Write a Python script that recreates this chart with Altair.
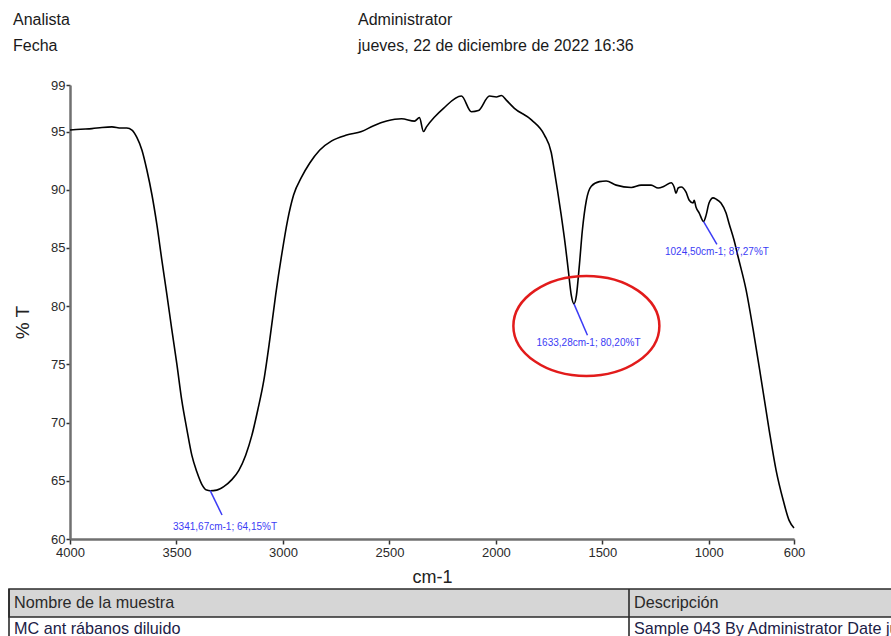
import altair as alt
import pandas as pd

# FTIR transmittance spectrum (wavenumber in cm-1, transmittance in %T)
wavenumber = [
    4000, 3950, 3897, 3850, 3803, 3760, 3733, 3709, 3686, 3662, 3639, 3615,
    3592, 3569, 3545, 3522, 3498, 3475, 3451, 3428, 3404, 3381, 3358, 3341.67,
    3311, 3278, 3240, 3207, 3175, 3146, 3118, 3090, 3062, 3034, 3006, 2978,
    2950, 2912, 2874, 2828, 2771, 2701, 2631, 2574, 2513, 2443, 2382, 2359,
    2340, 2326, 2288, 2246, 2162, 2115, 2082, 2030, 1998, 1974, 1951, 1913,
    1833, 1772, 1740, 1726, 1711, 1693, 1674, 1660, 1646, 1633.28, 1622, 1608,
    1594, 1575, 1552, 1514, 1482, 1435, 1364, 1318, 1271, 1238, 1210, 1177,
    1163, 1154, 1144, 1130, 1107, 1092, 1074, 1069, 1060, 1045, 1024.50, 1013,
    999, 980, 966, 943, 919, 905, 882, 862, 825, 792, 754, 717, 684, 651, 623,
    600,
]
transmittance = [
    95.13, 95.2, 95.25, 95.35, 95.4, 95.3, 95.3, 95.13, 94.5, 93.4, 91.7, 89.55,
    87.0, 84.0, 81.0, 78.0, 75.0, 71.9, 69.4, 67.2, 65.75, 64.7, 64.2, 64.15,
    64.2, 64.5, 65.1, 65.9, 67.2, 68.9, 71.1, 73.6, 77.1, 81.0, 84.4, 87.4,
    89.55, 91.1, 92.3, 93.4, 94.2, 94.7, 95.0, 95.5, 95.9, 96.1, 95.9, 96.2,
    95.0, 95.4, 96.25, 97.0, 98.05, 96.7, 96.8, 98.05, 97.97, 98.1, 97.7, 97.0,
    96.0, 94.7, 93.2, 91.7, 90.0, 87.8, 85.25, 83.1, 80.95, 80.20, 80.9, 83.5,
    86.5, 89.1, 90.3, 90.7, 90.75, 90.4, 90.2, 90.4, 90.4, 90.15, 90.3, 90.6,
    90.24, 89.7, 90.15, 90.24, 89.8, 89.1, 88.86, 89.1, 88.5, 88.0, 87.27, 87.8,
    88.86, 89.3, 89.2, 88.86, 88.0, 87.1, 85.7, 84.2, 81.4, 78.0, 73.7, 69.4,
    65.9, 63.35, 61.6, 60.95,
]

# Labelled absorption peaks and where their callout text sits
peak_wn = [3341.67, 1633.28, 1024.50]
peak_t = [64.15, 80.20, 87.27]
callout_wn = [3286, 1570, 962]
callout_t = [62.06, 77.5, 85.3]
label_wn = [3272, 1565, 962]
label_t = [61.03, 76.85, 84.65]

x_ticks = [4000, 3500, 3000, 2500, 2000, 1500, 1000, 600]
y_ticks = [60, 65, 70, 75, 80, 85, 90, 95, 99]

# Highlighted region (the 1633 cm-1 band)
focus_wn = [1575]
focus_t = [78.3]


def fmt(v):
    return f"{v:.2f}".replace(".", ",")


spectrum = pd.DataFrame({"wn": wavenumber, "t": transmittance})
peaks = pd.DataFrame({
    "wn": peak_wn, "t": peak_t,
    "wn2": callout_wn, "t2": callout_t,
    "lwn": label_wn, "lt": label_t,
    "label": [f"{fmt(w)}cm-1; {fmt(t)}%T" for w, t in zip(peak_wn, peak_t)],
})
focus = pd.DataFrame({"wn": focus_wn, "t": focus_t})

FONT = "Liberation Sans"
BLUE = "#3b3bf5"

x_enc = alt.X(
    "wn:Q",
    scale=alt.Scale(domain=[600, 4000], reverse=True, nice=False, zero=False),
    axis=alt.Axis(values=x_ticks, format="d", title="cm-1", titleFontSize=18,
                  titlePadding=9, labelPadding=2, tickSize=5),
)
y_enc = alt.Y(
    "t:Q",
    scale=alt.Scale(domain=[60, 99], nice=False, zero=False),
    axis=alt.Axis(values=y_ticks, format="d", title="% T", titleFontSize=19,
                  titleX=-48, titleY=237, titleAlign="center",
                  titleBaseline="middle", labelPadding=1, tickSize=4),
)

line = alt.Chart(spectrum).mark_line(
    color="black", strokeWidth=1.6, interpolate="monotone"
).encode(x=x_enc, y=y_enc)

callouts = alt.Chart(peaks).mark_rule(color=BLUE, strokeWidth=1.5).encode(
    x="wn:Q", y="t:Q", x2="wn2:Q", y2="t2:Q"
)
callout_text = alt.Chart(peaks).mark_text(
    color=BLUE, font=FONT, fontSize=10, align="center", baseline="middle"
).encode(x="lwn:Q", y="lt:Q", text="label:N")

# Ellipse drawn as a custom symbol path (unit box, flattened vertically)
ellipse_path = (
    "M -1 0 C -1 -0.378 -0.552 -0.685 0 -0.685 "
    "C 0.552 -0.685 1 -0.378 1 0 "
    "C 1 0.378 0.552 0.685 0 0.685 "
    "C -0.552 0.685 -1 0.378 -1 0 Z"
)
ring = alt.Chart(focus).mark_point(
    shape=ellipse_path, size=146 * 146, filled=False,
    color="#e21b1b", strokeWidth=2.5, opacity=1
).encode(x="wn:Q", y="t:Q")


def text_at(txt, x, y, size=16, color="#1a1a1a", **kw):
    return alt.Chart(pd.DataFrame({"s": [txt]})).mark_text(
        font=FONT, fontSize=size, color=color, align="left",
        baseline="middle", **kw
    ).encode(x=alt.value(x), y=alt.value(y), text="s:N")


def one_row():
    return alt.Chart(pd.DataFrame({"k": [0]}))


# Report header
header = [
    text_at("Analista", -57, -65, 16),
    text_at("Fecha", -57, -39, 16),
    text_at("Administrator", 288, -65, 16),
    text_at("jueves, 22 de diciembre de 2022 16:36", 288, -39, 16),
]

# Sample table below the plot
table_head = one_row().mark_rect(
    fill="#d6d6d6", stroke="#2b2b2b", strokeWidth=1.6
).encode(x=alt.value(-61), x2=alt.value(840), y=alt.value(504), y2=alt.value(532))
col_split = one_row().mark_rule(color="#2b2b2b", strokeWidth=1.6).encode(
    x=alt.value(559), y=alt.value(504), y2=alt.value(560)
)
left_edge = one_row().mark_rule(color="#2b2b2b", strokeWidth=1.6).encode(
    x=alt.value(-61), y=alt.value(504), y2=alt.value(560)
)
table_text = [
    text_at("Nombre de la muestra", -56, 518, 16.2, "#2a2a2a"),
    text_at("Descripción", 564, 518, 16.2, "#2a2a2a"),
    text_at("MC ant rábanos diluido", -56, 544, 16.2, "#1c2146"),
    text_at("Sample 043 By Administrator Date jueves, 22 de diciembre de 2022",
            564, 544, 16.2, "#1c2146"),
]

chart = alt.layer(
    table_head, col_split, left_edge, *table_text, *header,
    line, callouts, callout_text, ring,
).properties(
    width=724, height=454,
    padding={"left": 70, "top": 85, "right": 97, "bottom": 97},
    autosize=alt.AutoSizeParams(type="none"),
    background="white",
).configure_view(
    stroke=None
).configure_axis(
    grid=False,
    domainColor="#707070", domainWidth=2.5,
    tickColor="#333333", tickWidth=1.5,
    labelFont=FONT, labelFontSize=13, labelColor="#2a2a2a",
    labelFlush=False, labelOverlap=False,
    titleFont=FONT, titleFontWeight="normal", titleColor="#222222",
)

chart.save("out.html", embed_options={"renderer": "svg", "actions": False})
